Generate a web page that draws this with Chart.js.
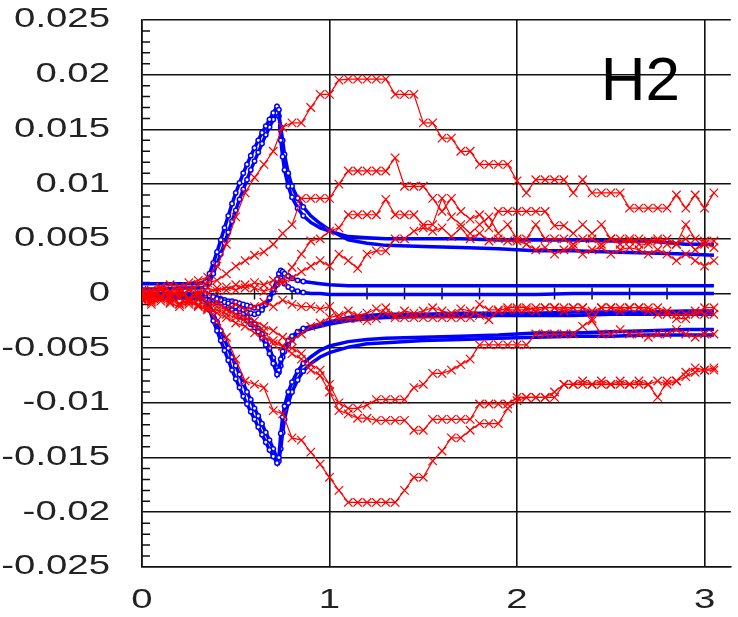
<!DOCTYPE html>
<html>
<head>
<meta charset="utf-8">
<script src="https://cdn.jsdelivr.net/npm/chart.js@4.4.1/dist/chart.umd.min.js"></script>
<style>
  html, body { margin: 0; padding: 0; background: #fff; }
  canvas { display: block; }
</style>
</head>
<body>
<canvas id="h2Chart" width="738" height="617"></canvas>
<script>
// x positions of the red (measured) samples
const redX = [0, 0.05, 0.1, 0.15, 0.2, 0.25, 0.3, 0.35, 0.4, 0.45,
  0.5, 0.55, 0.6, 0.65, 0.7, 0.75, 0.8, 0.85, 0.9, 0.95,
  1.0, 1.05, 1.1, 1.15, 1.2, 1.25, 1.3, 1.35, 1.4, 1.45,
  1.5, 1.55, 1.6, 1.65, 1.7, 1.75, 1.8, 1.85, 1.9, 1.95,
  2.0, 2.05, 2.1, 2.15, 2.2, 2.25, 2.3, 2.35, 2.4, 2.45,
  2.5, 2.55, 2.6, 2.65, 2.7, 2.75, 2.8, 2.85, 2.9, 2.95,
  3.0, 3.05];

const redA = [0.0000, 0.0003, 0.0005, 0.0008, 0.0006, 0.0010, 0.0012, 0.0015, 0.0025, 0.0045,
  0.0070, 0.0092, 0.0106, 0.0118, 0.0130, 0.0152, 0.0156, 0.0156, 0.0170, 0.0182,
  0.0182, 0.0195, 0.0196, 0.0196, 0.0196, 0.0196, 0.0196, 0.0182, 0.0182, 0.0182,
  0.0156, 0.0156, 0.0142, 0.0142, 0.0130, 0.0130, 0.0118, 0.0118, 0.0118, 0.0118,
  0.0103, 0.0092, 0.0104, 0.0104, 0.0104, 0.0104, 0.0092, 0.0104, 0.0092, 0.0092,
  0.0092, 0.0092, 0.0078, 0.0078, 0.0078, 0.0078, 0.0078, 0.0090, 0.0078, 0.0090,
  0.0078, 0.0092];
const redB = [-0.0002, 0.0002, 0.0004, 0.0001, 0.0005, 0.0003, 0.0008, 0.0010, 0.0012, 0.0018,
  0.0025, 0.0030, 0.0035, 0.0038, 0.0045, 0.0055, 0.0063, 0.0087, 0.0087, 0.0087,
  0.0087, 0.0100, 0.0112, 0.0112, 0.0112, 0.0112, 0.0112, 0.0124, 0.0098, 0.0098,
  0.0098, 0.0087, 0.0075, 0.0087, 0.0075, 0.0068, 0.0072, 0.0060, 0.0075, 0.0075,
  0.0075, 0.0075, 0.0075, 0.0075, 0.0062, 0.0062, 0.0055, 0.0063, 0.0055, 0.0063,
  0.0050, 0.0050, 0.0048, 0.0050, 0.0048, 0.0048, 0.0050, 0.0045, 0.0063, 0.0050,
  0.0048, 0.0048];
const redC = [0.0003, -0.0002, 0.0006, 0.0002, -0.0003, 0.0004, 0.0000, 0.0005, 0.0002, 0.0006,
  0.0003, 0.0008, 0.0005, 0.0002, 0.0005, 0.0012, 0.0024, 0.0036, 0.0048, 0.0050,
  0.0057, 0.0060, 0.0072, 0.0072, 0.0072, 0.0072, 0.0086, 0.0072, 0.0072, 0.0072,
  0.0063, 0.0063, 0.0087, 0.0070, 0.0063, 0.0055, 0.0063, 0.0070, 0.0055, 0.0063,
  0.0050, 0.0050, 0.0063, 0.0050, 0.0050, 0.0050, 0.0045, 0.0050, 0.0050, 0.0045,
  0.0050, 0.0045, 0.0050, 0.0045, 0.0045, 0.0050, 0.0045, 0.0045, 0.0050, 0.0040,
  0.0045, 0.0042];
const redD = [-0.0005, 0.0000, -0.0003, 0.0002, 0.0000, -0.0004, 0.0002, 0.0000, 0.0005, 0.0003,
  0.0008, 0.0005, 0.0010, 0.0008, 0.0012, 0.0010, 0.0014, 0.0020, 0.0025, 0.0030,
  0.0025, 0.0036, 0.0030, 0.0023, 0.0036, 0.0039, 0.0039, 0.0050, 0.0050, 0.0057,
  0.0060, 0.0057, 0.0060, 0.0052, 0.0060, 0.0050, 0.0055, 0.0048, 0.0050, 0.0048,
  0.0048, 0.0045, 0.0040, 0.0042, 0.0036, 0.0040, 0.0042, 0.0036, 0.0040, 0.0042,
  0.0036, 0.0040, 0.0042, 0.0040, 0.0036, 0.0040, 0.0036, 0.0030, 0.0036, 0.0030,
  0.0025, 0.0030];
const redE = [-0.0003, -0.0006, -0.0002, -0.0008, -0.0004, -0.0010, -0.0006, -0.0012, -0.0008, -0.0014,
  -0.0010, -0.0015, -0.0012, -0.0008, -0.0012, -0.0006, -0.0010, -0.0012, -0.0012, -0.0014,
  -0.0012, -0.0023, -0.0023, -0.0023, -0.0025, -0.0023, -0.0013, -0.0022, -0.0022, -0.0022,
  -0.0022, -0.0022, -0.0022, -0.0022, -0.0022, -0.0022, -0.0010, -0.0015, -0.0015, -0.0015,
  -0.0015, -0.0015, -0.0013, -0.0013, -0.0013, -0.0013, -0.0013, -0.0013, -0.0023, -0.0013,
  -0.0013, -0.0013, -0.0013, -0.0013, -0.0013, -0.0019, -0.0019, -0.0019, -0.0019, -0.0019,
  -0.0013, -0.0013];
const redE2 = [0.0000, -0.0004, 0.0003, -0.0002, 0.0002, -0.0005, -0.0003, -0.0008, -0.0012, -0.0015,
  -0.0019, -0.0022, -0.0025, -0.0030, -0.0034, -0.0040, -0.0043, -0.0037, -0.0030, -0.0027,
  -0.0022, -0.0020, -0.0016, -0.0020, -0.0018, -0.0014, -0.0018, -0.0020, -0.0016, -0.0018,
  -0.0016, -0.0013, -0.0016, -0.0018, -0.0014, -0.0016, -0.0020, -0.0024, -0.0016, -0.0013,
  -0.0013, -0.0013, -0.0016, -0.0013, -0.0013, -0.0016, -0.0013, -0.0013, -0.0016, -0.0013,
  -0.0013, -0.0016, -0.0013, -0.0013, -0.0016, -0.0013, -0.0016, -0.0023, -0.0023, -0.0016,
  -0.0019, -0.0019];
const redG = [-0.0006, -0.0010, -0.0005, -0.0009, -0.0012, -0.0008, -0.0011, -0.0014, -0.0015, -0.0019,
  -0.0022, -0.0025, -0.0030, -0.0034, -0.0046, -0.0048, -0.0050, -0.0055, -0.0065, -0.0070,
  -0.0083, -0.0100, -0.0105, -0.0105, -0.0102, -0.0097, -0.0097, -0.0097, -0.0097, -0.0086,
  -0.0083, -0.0073, -0.0073, -0.0070, -0.0065, -0.0060, -0.0047, -0.0047, -0.0047, -0.0047,
  -0.0047, -0.0047, -0.0037, -0.0037, -0.0037, -0.0037, -0.0037, -0.0030, -0.0025, -0.0037,
  -0.0037, -0.0033, -0.0037, -0.0037, -0.0040, -0.0037, -0.0037, -0.0033, -0.0037, -0.0040,
  -0.0037, -0.0037];
const redH = [0.0002, -0.0003, -0.0007, -0.0004, -0.0009, -0.0006, -0.0010, -0.0013, -0.0018, -0.0022,
  -0.0027, -0.0030, -0.0036, -0.0040, -0.0043, -0.0048, -0.0055, -0.0060, -0.0070, -0.0075,
  -0.0090, -0.0107, -0.0110, -0.0114, -0.0114, -0.0116, -0.0116, -0.0116, -0.0116, -0.0125,
  -0.0125, -0.0115, -0.0115, -0.0115, -0.0115, -0.0115, -0.0101, -0.0101, -0.0101, -0.0101,
  -0.0095, -0.0095, -0.0095, -0.0095, -0.0095, -0.0083, -0.0083, -0.0083, -0.0083, -0.0083,
  -0.0083, -0.0083, -0.0083, -0.0083, -0.0083, -0.0095, -0.0080, -0.0080, -0.0076, -0.0072,
  -0.0070, -0.0070];
const redF = [-0.0004, -0.0008, -0.0003, -0.0006, -0.0010, -0.0007, -0.0012, -0.0015, -0.0025, -0.0040,
  -0.0060, -0.0080, -0.0083, -0.0086, -0.0107, -0.0110, -0.0132, -0.0134, -0.0145, -0.0156,
  -0.0168, -0.0180, -0.0191, -0.0191, -0.0191, -0.0191, -0.0191, -0.0191, -0.0180, -0.0168,
  -0.0168, -0.0153, -0.0144, -0.0132, -0.0132, -0.0125, -0.0119, -0.0119, -0.0119, -0.0105,
  -0.0098, -0.0095, -0.0095, -0.0095, -0.0090, -0.0083, -0.0083, -0.0080, -0.0083, -0.0080,
  -0.0083, -0.0080, -0.0083, -0.0080, -0.0083, -0.0080, -0.0083, -0.0080, -0.0072, -0.0068,
  -0.0070, -0.0068];

// x positions of the blue (computed) curves
const blueX = [0, 0.1, 0.2, 0.3, 0.34, 0.36, 0.38, 0.40, 0.42, 0.44,
  0.46, 0.48, 0.50, 0.52, 0.54, 0.56, 0.58, 0.60, 0.62, 0.64,
  0.66, 0.68, 0.70, 0.72, 0.73, 0.74, 0.75, 0.76, 0.78, 0.80,
  0.83, 0.86, 0.90, 0.95, 1.0, 1.1, 1.2, 1.3, 1.5, 1.7,
  1.9, 2.1, 2.3, 2.5, 2.7, 2.9, 3.05];

const blueU1 = [0.0009, 0.0009, 0.0009, 0.0009, 0.0011, 0.0018, 0.0028, 0.0038, 0.0049, 0.0060,
  0.0071, 0.0082, 0.0092, 0.0101, 0.0110, 0.0118, 0.0126, 0.0133, 0.0140, 0.0147,
  0.0153, 0.0159, 0.0165, 0.0171, 0.0168, 0.0140, 0.0125, 0.0113, 0.0098, 0.0088,
  0.0078, 0.0071, 0.0065, 0.0060, 0.0057, 0.0052, 0.0051, 0.0050, 0.0050, 0.0050,
  0.0049, 0.0049, 0.0049, 0.0048, 0.0048, 0.0045, 0.0045];
const blueU2 = [0.0004, 0.0004, 0.0005, 0.0005, 0.0006, 0.0010, 0.0018, 0.0027, 0.0036, 0.0046,
  0.0056, 0.0066, 0.0076, 0.0086, 0.0095, 0.0104, 0.0113, 0.0121, 0.0129, 0.0137,
  0.0145, 0.0152, 0.0159, 0.0165, 0.0162, 0.0152, 0.0140, 0.0127, 0.0110, 0.0098,
  0.0087, 0.0079, 0.0071, 0.0064, 0.0058, 0.0049, 0.0046, 0.0044, 0.0043, 0.0042,
  0.0041, 0.0039, 0.0039, 0.0038, 0.0037, 0.0036, 0.0035];
const blueM1 = [0.0000, 0.0000, 0.0000, 0.0000, 0.0000, -0.0002, -0.0003, -0.0005, -0.0006, -0.0008,
  -0.0009, -0.0011, -0.0012, -0.0014, -0.0015, -0.0017, -0.0018, -0.0019, -0.0018, -0.0015,
  -0.0010, -0.0004, 0.0004, 0.0013, 0.0018, 0.0021, 0.0020, 0.0018, 0.0016, 0.0014,
  0.0012, 0.0011, 0.0010, 0.0009, 0.0008, 0.0007, 0.0007, 0.0007, 0.0007, 0.0007,
  0.0007, 0.0007, 0.0007, 0.0007, 0.0007, 0.0007, 0.0007];
const blueM2 = [-0.0002, -0.0002, -0.0002, -0.0002, -0.0002, -0.0003, -0.0004, -0.0004, -0.0005, -0.0006,
  -0.0007, -0.0007, -0.0008, -0.0009, -0.0010, -0.0011, -0.0012, -0.0013, -0.0013, -0.0012,
  -0.0009, -0.0005, 0.0001, 0.0008, 0.0012, 0.0014, 0.0012, 0.0009, 0.0006, 0.0004,
  0.0002, 0.0001, 0.0000, 0.0000, -0.0001, -0.0001, -0.0001, -0.0001, -0.0001, -0.0001,
  -0.0001, -0.0001, 0.0000, 0.0000, 0.0000, 0.0000, 0.0000];
const blueV1 = [-0.0004, -0.0004, -0.0004, -0.0005, -0.0005, -0.0006, -0.0006, -0.0008, -0.0009, -0.0011,
  -0.0013, -0.0015, -0.0017, -0.0020, -0.0022, -0.0025, -0.0028, -0.0031, -0.0035, -0.0041,
  -0.0047, -0.0055, -0.0064, -0.0074, -0.0070, -0.0060, -0.0053, -0.0049, -0.0043, -0.0039,
  -0.0035, -0.0032, -0.0030, -0.0028, -0.0026, -0.0022, -0.0020, -0.0019, -0.0019, -0.0018,
  -0.0018, -0.0018, -0.0017, -0.0017, -0.0017, -0.0016, -0.0016];
const blueV2 = [-0.0003, -0.0003, -0.0003, -0.0004, -0.0004, -0.0005, -0.0005, -0.0007, -0.0008, -0.0010,
  -0.0011, -0.0013, -0.0015, -0.0017, -0.0019, -0.0022, -0.0025, -0.0028, -0.0032, -0.0037,
  -0.0043, -0.0050, -0.0059, -0.0068, -0.0072, -0.0066, -0.0058, -0.0053, -0.0046, -0.0042,
  -0.0037, -0.0034, -0.0032, -0.0030, -0.0028, -0.0025, -0.0023, -0.0022, -0.0021, -0.0021,
  -0.0020, -0.0020, -0.0020, -0.0019, -0.0019, -0.0019, -0.0019];
const blueL1 = [-0.0003, -0.0003, -0.0003, -0.0004, -0.0006, -0.0015, -0.0025, -0.0034, -0.0043, -0.0052,
  -0.0061, -0.0070, -0.0078, -0.0086, -0.0094, -0.0101, -0.0108, -0.0115, -0.0122, -0.0129,
  -0.0136, -0.0143, -0.0149, -0.0155, -0.0150, -0.0128, -0.0113, -0.0103, -0.0090, -0.0081,
  -0.0071, -0.0064, -0.0058, -0.0052, -0.0048, -0.0044, -0.0042, -0.0041, -0.0040, -0.0039,
  -0.0038, -0.0036, -0.0036, -0.0035, -0.0034, -0.0033, -0.0033];
const blueL2 = [-0.0002, -0.0002, -0.0002, -0.0003, -0.0004, -0.0010, -0.0018, -0.0026, -0.0034, -0.0042,
  -0.0050, -0.0058, -0.0066, -0.0074, -0.0082, -0.0090, -0.0097, -0.0105, -0.0112, -0.0119,
  -0.0127, -0.0134, -0.0142, -0.0150, -0.0153, -0.0142, -0.0127, -0.0115, -0.0100, -0.0090,
  -0.0079, -0.0071, -0.0064, -0.0058, -0.0054, -0.0049, -0.0046, -0.0045, -0.0043, -0.0042,
  -0.0041, -0.0040, -0.0039, -0.0039, -0.0038, -0.0038, -0.0038];

const xTicks = [0, 1, 2, 3];
const yTicks = [-0.025, -0.02, -0.015, -0.01, -0.005, 0, 0.005, 0.01, 0.015, 0.02, 0.025];
const panelLabel = 'H2';

const redSeries = [redA, redB, redC, redD, redE, redE2, redG, redH, redF];
const blueSeries = [blueU1, blueU2, blueM1, blueM2, blueV1, blueV2, blueL1, blueL2];

const pts = (xs, ys) => xs.map((x, i) => ({ x: x, y: ys[i] }));

const datasets = [];
redSeries.forEach(s => {
  datasets.push({
    data: pts(redX, s),
    showLine: true,
    borderColor: '#ff0000',
    borderWidth: 1.2,
    pointStyle: 'crossRot',
    pointRadius: 6,
    pointBorderColor: '#ff0000',
    pointBorderWidth: 1.2,
    order: 1
  });
});
blueSeries.forEach(s => {
  datasets.push({
    data: pts(blueX, s),
    showLine: true,
    borderColor: '#0000ff',
    borderWidth: 3.5,
    pointStyle: 'circle',
    // markers only show up where the curves are steep
    pointRadius: c => (c.raw && c.raw.x > 0.3 && c.raw.x < 0.9 ? 2.2 : 0),
    pointBackgroundColor: '#ffffff',
    pointBorderColor: '#0000ff',
    pointBorderWidth: 1.5,
    order: 2
  });
});

const fmtY = v => String(+v.toFixed(3));
const labelFont = '27px "Liberation Sans", Arial, sans-serif';
const stretch = 1.42;

// minor ticks, zero-line ticks, panel name and the (wide) tick labels
const decor = {
  id: 'decor',
  beforeDatasetsDraw(chart) {
    const { ctx, chartArea, scales } = chart;
    const xs = scales.x, ys = scales.y;
    ctx.save();
    ctx.strokeStyle = '#111';
    ctx.lineWidth = 1.5;
    ctx.beginPath();
    for (let k = -25; k <= 25; k++) {
      if (k % 5 === 0) continue;
      const py = ys.getPixelForValue(k / 1000);
      ctx.moveTo(chartArea.left, py);
      ctx.lineTo(chartArea.left + 8, py);
    }
    const y0 = ys.getPixelForValue(0);
    for (let k = 1; k <= 15; k++) {
      if (k % 5 === 0) continue;
      const px = xs.getPixelForValue(k * 0.2);
      ctx.moveTo(px, y0 - 6);
      ctx.lineTo(px, y0 + 6);
    }
    ctx.stroke();
    ctx.fillStyle = '#000';
    ctx.font = '62px "Liberation Sans", Arial, sans-serif';
    ctx.textBaseline = 'alphabetic';
    ctx.fillText(panelLabel, chartArea.right - 130, chartArea.top + 80);
    ctx.restore();
  },
  afterDraw(chart) {
    const { ctx, chartArea, scales } = chart;
    ctx.save();
    ctx.fillStyle = '#222';
    ctx.font = labelFont;
    ctx.textBaseline = 'middle';
    ctx.textAlign = 'right';
    yTicks.forEach(v => {
      ctx.save();
      ctx.translate(chartArea.left - 32, scales.y.getPixelForValue(v));
      ctx.scale(stretch, 1);
      ctx.fillText(fmtY(v), 0, 0);
      ctx.restore();
    });
    ctx.textAlign = 'center';
    xTicks.forEach(v => {
      ctx.save();
      ctx.translate(scales.x.getPixelForValue(v), chartArea.bottom + 34);
      ctx.scale(stretch, 1);
      ctx.fillText(String(v), 0, 0);
      ctx.restore();
    });
    ctx.restore();
  }
};

new Chart(document.getElementById('h2Chart'), {
  type: 'scatter',
  data: { datasets: datasets },
  options: {
    responsive: false,
    animation: false,
    devicePixelRatio: 1,
    layout: { padding: { top: 20, right: 0, left: 0, bottom: 0 } },
    plugins: { legend: { display: false }, tooltip: { enabled: false } },
    scales: {
      x: {
        type: 'linear',
        min: 0,
        max: 3.14,
        afterBuildTicks: s => { s.ticks = xTicks.map(v => ({ value: v })); },
        afterFit: s => { s.height = 50; s.paddingLeft = 0; s.paddingRight = 0; },
        grid: { color: '#111', lineWidth: 1.6, drawTicks: false },
        border: { color: '#111', width: 1.6 },
        ticks: { display: false }
      },
      y: {
        type: 'linear',
        min: -0.025,
        max: 0.025,
        afterBuildTicks: s => { s.ticks = yTicks.map(v => ({ value: v })); },
        afterFit: s => { s.width = 142; s.paddingTop = 0; s.paddingBottom = 0; },
        grid: { color: '#111', lineWidth: 1.6, drawTicks: false },
        border: { color: '#111', width: 1.6 },
        ticks: { display: false }
      }
    }
  },
  plugins: [decor]
});
</script>
</body>
</html>
